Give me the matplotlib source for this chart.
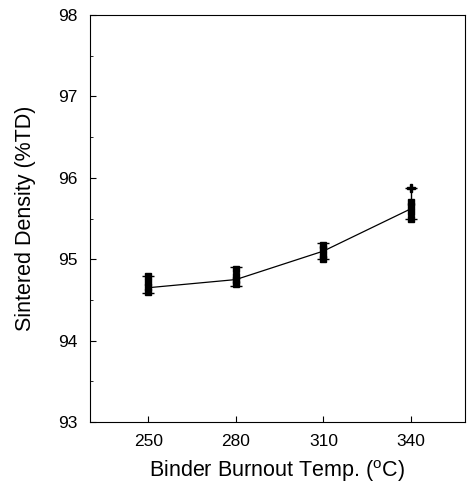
import numpy as np
import matplotlib.pyplot as plt
from matplotlib.ticker import MultipleLocator

plt.rcParams['font.family'] = ['Liberation Sans', 'DejaVu Sans']

# burnout temperatures and measured densities
temps = [250, 280, 310, 340]
mean_density = [94.65, 94.75, 95.1, 95.62]
samples = [
    [94.8, 94.72, 94.66, 94.6],
    [94.88, 94.8, 94.75, 94.7],
    [95.18, 95.12, 95.05, 95.0],
    [95.7, 95.65, 95.58, 95.5],
]
outlier_t = [340]
outlier_d = [95.88]
err_lo = [0.06, 0.08, 0.1, 0.12]
err_hi = [0.15, 0.15, 0.1, 0.26]

fig = plt.figure(figsize=(4.71, 4.87), dpi=100)
ax = fig.add_axes([0.191, 0.1335, 0.796, 0.8355])

ax.plot(temps, mean_density, color='black', lw=0.9)
for t, s in zip(temps, samples):
    ax.plot([t] * len(s), s, 's', color='black', ms=5)
ax.plot(outlier_t, outlier_d, 'P', color='black', ms=6)
ax.errorbar(temps, mean_density, yerr=[err_lo, err_hi], fmt='none',
            ecolor='black', elinewidth=1, capsize=4)

ax.set_xlim(230, 358.5)
ax.set_ylim(93, 98)
ax.set_xticks(temps)
ax.yaxis.set_major_locator(MultipleLocator(1))
ax.yaxis.set_minor_locator(MultipleLocator(0.5))
ax.tick_params(direction='in', labelsize=12.5, length=4)
ax.tick_params(which='minor', direction='in', length=2.5)
ax.tick_params(axis='x', pad=9)
ax.tick_params(axis='y', pad=9)
ax.set_xlabel('Binder Burnout Temp. ($^{\\mathregular{o}}$C)', fontsize=15.5, labelpad=6)
ax.set_ylabel('Sintered Density (%TD)', fontsize=15.5, labelpad=16)

fig.savefig('out.png', dpi=100)
